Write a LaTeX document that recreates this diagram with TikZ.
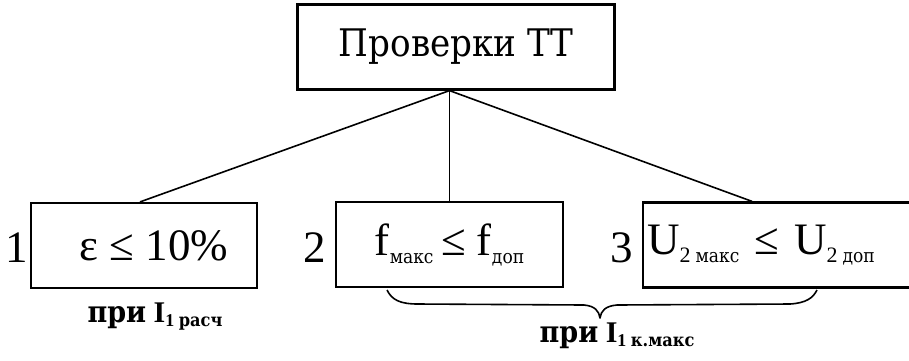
\documentclass[tikz,border=0pt]{standalone}
\usepackage{fontspec}
\setmainfont{Liberation Serif}
\newfontfamily\cyr{DejaVu Serif Condensed}
\newcommand\mysub[1]{\raisebox{-8pt}{\fontsize{19}{19}\selectfont #1}}
\newcommand\mysubl[1]{\raisebox{-4pt}{\fontsize{18}{18}\selectfont\bfseries #1}}
\newcommand\twosub[1]{\mysub{\fontsize{22}{22}\selectfont 2\hspace{5pt}{\cyr\fontsize{19}{19}\selectfont #1}}}
\begin{document}
\begin{tikzpicture}[x=1pt,y=-1pt,line width=1.6pt,
  box/.style={draw,line width=2.2pt,minimum height=85pt,inner sep=0pt,font=\fontsize{45}{45}\selectfont},
  num/.style={font=\fontsize{45}{45}\selectfont,inner sep=0pt,anchor=base},
  lbl/.style={font=\bfseries\fontsize{30}{30}\selectfont,inner sep=0pt,anchor=base},
  link/.style={line width=1.6pt},
  bracepath/.style={line width=1.6pt,line join=round}]
\useasboundingbox (0,0) rectangle (909,360);
% boxes
\node[box,minimum width=317pt,font=\cyr\fontsize{38}{38}\selectfont] (top) at (456,47) {Проверки ТТ};
\node[box,minimum width=226pt] (b1) at (144,245.5) {\hspace{20pt}ε ≤ 10\%};
\node[box,minimum width=227pt] (b2) at (449.5,244.5) {f\mysub{\cyr макс}\,≤ f\mysub{\cyr доп}};
\node[box,anchor=west,text width=270pt,align=left,inner xsep=4pt] (b3) at (642,245) {U\twosub{макс} ≤ U\twosub{доп}};
% numbers
\node[num] (n1) at (17,262) {1};
\node[num] (n2) at (315,262) {2};
\node[num] (n3) at (622,262) {3};
% connectors
\coordinate (o) at (top.south -| b2.north);
\path (b1.north) ++(-4,0) coordinate (e1);
\path (b3.north) ++(-30,0) coordinate (e3);
\draw[link] (o) -- (e1);
\draw[link] (o) -- (b2.north);
\draw[link] (o) -- (e3);
% brace
\coordinate (bs) at (387,290);
\coordinate (bt) at (600,318);
\coordinate (be) at (817,290);
\draw[bracepath] (bs) .. controls (392,300) and (400,304) .. (418,304) -- (584,305)
  .. controls (595,306) and (599,311) .. (bt)
  .. controls (601,311) and (605,306) .. (617,305) -- (790,304)
  .. controls (806,303) and (813,298) .. (be);
% labels
\node[lbl] (l1) at (155,322) {{\cyr при} I\mysubl{1 \cyr расч}};
\node[lbl] (l2) at (617,342) {{\cyr при} I\mysubl{1 \cyr к.макс}};
\end{tikzpicture}
\end{document}
